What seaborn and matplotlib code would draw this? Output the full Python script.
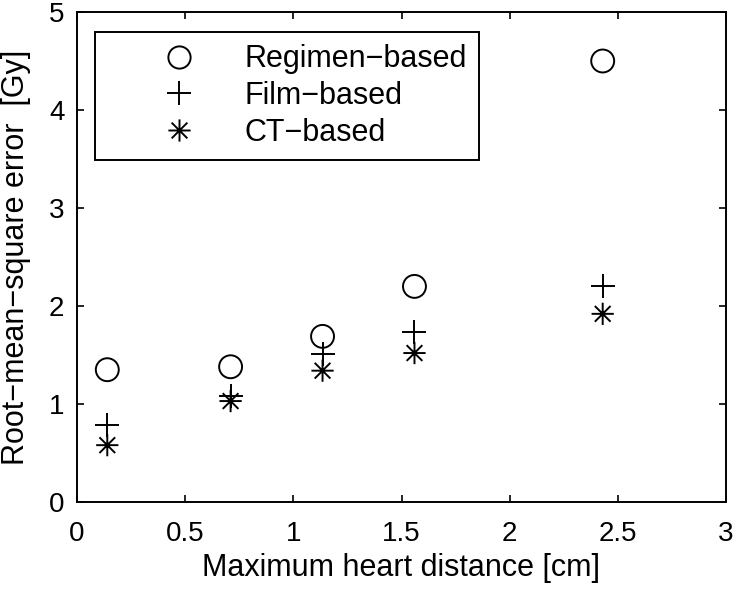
import numpy as np
import pandas as pd
import matplotlib
matplotlib.use("Agg")
import matplotlib.pyplot as plt
import seaborn as sns
from matplotlib.path import Path
from matplotlib.lines import Line2D

# ---- data ----
distance = [0.14, 0.71, 1.135, 1.56, 2.43]
regimen = [1.35, 1.38, 1.69, 2.20, 4.50]
film = [0.79, 1.08, 1.51, 1.73, 2.20]
ct = [0.58, 1.03, 1.34, 1.52, 1.92]
series_names = ["Regimen\u2212based", "Film\u2212based", "CT\u2212based"]
xticks = [0, 0.5, 1, 1.5, 2, 2.5, 3]
xticklabels = ["0", "0.5", "1", "1.5", "2", "2.5", "3"]
yticks = [0, 1, 2, 3, 4, 5]

sns.set_theme(style="ticks")
plt.rcParams["font.family"] = ["Liberation Sans", "DejaVu Sans"]
plt.rcParams["text.color"] = "black"
plt.rcParams["axes.labelcolor"] = "black"

d = 0.7071
asterisk = Path(
    [(-1, 0), (1, 0), (0, -1), (0, 1), (-d, -d), (d, d), (-d, d), (d, -d)],
    [Path.MOVETO, Path.LINETO] * 4,
)

fig = plt.figure(figsize=(7.36, 5.89), dpi=100)
ax = fig.add_axes([77 / 736, 87 / 589, 649 / 736, 490 / 589])

df = pd.DataFrame({"x": distance, "reg": regimen, "film": film, "ct": ct})
lw = 1.4
sns.scatterplot(data=df, x="x", y="reg", marker="o", s=16.5 ** 2,
                facecolors="none", edgecolors="black", linewidths=lw, ax=ax, zorder=3)
sns.scatterplot(data=df, x="x", y="film", marker="+", s=17 ** 2,
                color="black", linewidths=lw, ax=ax, zorder=3)
sns.scatterplot(data=df, x="x", y="ct", marker=asterisk, s=16 ** 2,
                facecolors="none", edgecolors="black", linewidths=lw, ax=ax, zorder=3)

ax.set_xlim(0, 3)
ax.set_ylim(0, 5)
ax.set_xticks(xticks)
ax.set_xticklabels(xticklabels)
ax.set_yticks(yticks)
ax.tick_params(direction="in", length=5, width=1.2, labelsize=20, colors="black",
               top=True, right=True)
ax.tick_params(axis="x", pad=14)
ax.tick_params(axis="y", pad=9)
for sp in ax.spines.values():
    sp.set_visible(True)
    sp.set_linewidth(1.4)
    sp.set_color("black")

ax.set_xlabel("Maximum heart distance [cm]", fontsize=22, labelpad=4, color="black")
ax.set_ylabel("Root\u2212mean\u2212square error  [Gy]", fontsize=22, labelpad=13,
              color="black")

handles = [
    Line2D([], [], linestyle="", marker="o", markersize=16, markerfacecolor="none",
           markeredgecolor="black", markeredgewidth=lw),
    Line2D([], [], linestyle="", marker="+", markersize=17, color="black",
           markeredgewidth=lw),
    Line2D([], [], linestyle="", marker=asterisk, markersize=16, markerfacecolor="none",
           markeredgecolor="black", markeredgewidth=lw),
]
leg = ax.legend(handles, series_names, loc="upper left",
                bbox_to_anchor=((95 - 77) / 649, (502 - 32) / 490),
                borderaxespad=0, fontsize=22, frameon=True, fancybox=False,
                edgecolor="black", framealpha=1, handlelength=4.7,
                handletextpad=-0.2, borderpad=0.4, labelspacing=0.22)
leg.get_frame().set_linewidth(1.4)
for t in leg.get_texts():
    t.set_color("black")

fig.savefig("out.png", dpi=100, facecolor="white")
